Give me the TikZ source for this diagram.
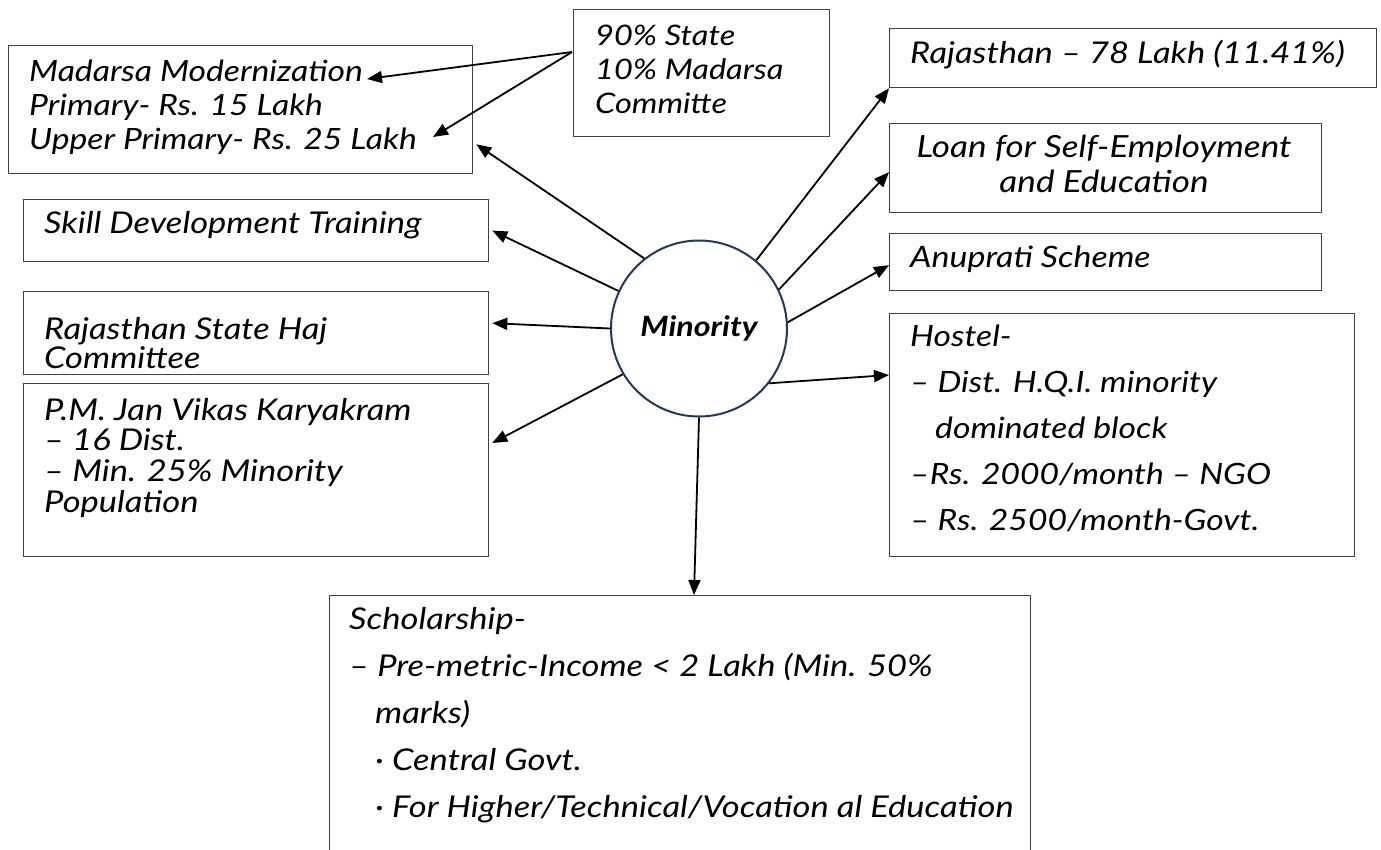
\documentclass[tikz,border=0pt]{standalone}
\usepackage{fontspec}
\setmainfont{Lato}[FakeStretch=1.15]
\usetikzlibrary{arrows.meta,calc}
\definecolor{boxgray}{RGB}{64,64,64}
\definecolor{navy}{RGB}{32,56,100}
\newcommand\mlines[1]{\begin{tabular}[t]{@{}l@{}}#1\end{tabular}}
\newcommand\clines[1]{\begin{tabular}[t]{@{}c@{}}#1\end{tabular}}
\begin{document}
\begin{tikzpicture}[x=1pt,y=-1pt,
  box/.style={draw=boxgray, line width=1.3pt, inner sep=0pt, anchor=north west},
  txt/.style={anchor=base west, inner sep=0pt, font=\itshape\fontsize{30}{34}\selectfont},
  conn/.style={line width=1.8pt, -{Triangle[length=15pt,width=12pt]}},
]
\useasboundingbox[fill=white] (0,0) rectangle (1381,849);

% boxes
\node[box, minimum width=464pt, minimum height=128pt] (mad) at (8,45) {};
\node[box, minimum width=256pt, minimum height=127pt] (pct) at (573,9) {};
\node[box, minimum width=465pt, minimum height=62pt] (skill) at (23,199) {};
\node[box, minimum width=465pt, minimum height=83pt] (haj) at (23,291) {};
\node[box, minimum width=465pt, minimum height=173pt] (pm) at (23,383) {};
\node[box, minimum width=487pt, minimum height=59pt] (raj) at (889,28) {};
\node[box, minimum width=432pt, minimum height=89pt] (loan) at (889,123) {};
\node[box, minimum width=432pt, minimum height=57pt] (anu) at (889,233) {};
\node[box, minimum width=465pt, minimum height=243pt] (hos) at (889,313) {};
\node[box, minimum width=701pt, minimum height=265pt] (sch) at (329,595) {};

% texts
\node[txt, font=\itshape\fontsize{29.3}{34}\selectfont] (madt) at (29,81)
  {\mlines{Madarsa Modernization\\ Primary- Rs. 15 Lakh\\ Upper Primary- Rs. 25 Lakh}};
\node[txt, font=\itshape\fontsize{28.3}{34}\selectfont] (pctt) at (595,45)
  {\mlines{90\% State\\ 10\% Madarsa\\ Committe}};
\node[txt] (skillt) at (44,233) {Skill Development Training};
\node[txt, font=\itshape\fontsize{30}{24}\selectfont] (hajt) at (44,339)
  {\mlines{Rajasthan State Haj\\ Committee}};
\node[txt, font=\itshape\fontsize{30}{30}\selectfont] (pmt) at (44,420)
  {\mlines{P.M. Jan Vikas Karyakram\\ – 16 Dist.\\ – Min. 25\% Minority\\ Population}};
\node[txt] (rajt) at (910,63) {Rajasthan – 78 Lakh (11.41\%)};
\node[txt, anchor=base, font=\itshape\fontsize{30.5}{35}\selectfont] (loant) at (1104,157)
  {\clines{Loan for Self-Employment\\ and Education}};
\node[txt, font=\itshape\fontsize{29.5}{34}\selectfont] (anut) at (910,267) {Anuprati Scheme};
\node[txt, font=\itshape\fontsize{29.3}{46}\selectfont] (host) at (910,346)
  {\mlines{Hostel-\\ – Dist. H.Q.I. minority\\ \hspace*{25pt}dominated block\\ –Rs. 2000/month – NGO\\ – Rs. 2500/month-Govt.}};
\node[txt, font=\itshape\fontsize{30}{47}\selectfont] (scht) at (349,629)
  {\mlines{Scholarship-\\ – Pre-metric-Income < 2 Lakh (Min. 50\%\\ \hspace*{26pt}marks)\\ \hspace*{26pt}· Central Govt.\\ \hspace*{26pt}· For Higher/Technical/Vocation al Education}};

% centre
\node[circle, draw=navy, line width=2pt, minimum size=176pt, inner sep=0pt,
      font=\bfseries\itshape\fontsize{28}{34}\selectfont] (c) at (699,328.5) {Minority};

% connectors
\draw[conn] (c.128.8) -- ($(mad.south east)+(3,-30)$);
\draw[conn] (c.155) -- ($(skill.east)+(3,0)$);
\draw[conn] (c.180) -- ($(haj.east)+(3,-10)$);
\draw[conn] (c.211) -- ($(pm.north east)+(3,60)$);
\draw[conn] (c.270) -- ($(sch.north west)+(365,0)$);
\draw[conn] (c.322) -- ($(hos.north west)+(0,62)$);
\draw[conn] (c.4.5) -- ($(anu.west)+(0,3)$);
\draw[conn] (c.26) -- ($(loan.west)+(0,4)$);
\draw[conn] (c.50) -- (raj.south west);
\draw[conn] ($(pct.north west)+(-1,43)$) -- ($(mad.north west)+(359,34)$);
\draw[conn] ($(pct.north west)+(-1,43)$) -- ($(mad.north west)+(425,92)$);
\end{tikzpicture}
\end{document}
